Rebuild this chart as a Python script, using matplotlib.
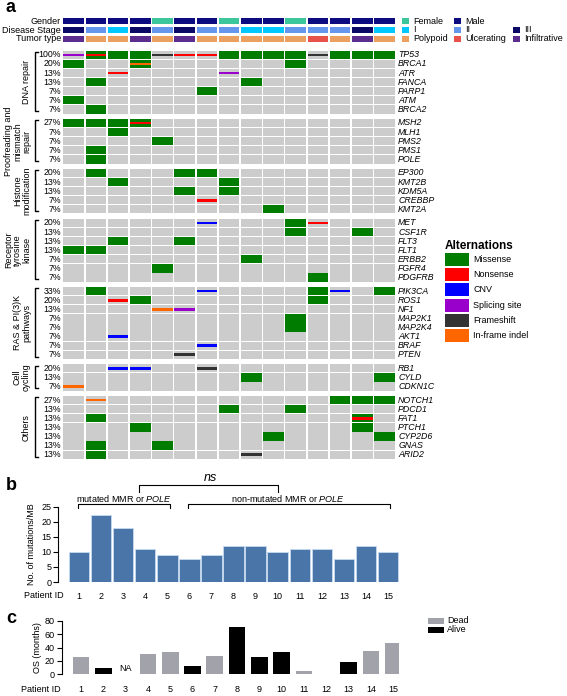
import matplotlib
matplotlib.use("Agg")
import matplotlib.pyplot as plt
from matplotlib.patches import Rectangle

plt.rcParams['font.family'] = ['Liberation Sans', 'DejaVu Sans']
plt.rcParams['mathtext.fontset'] = 'custom'
plt.rcParams['mathtext.rm'] = 'Liberation Sans'
plt.rcParams['mathtext.it'] = 'Liberation Sans:italic'

# ---------------- data ----------------
patients = list(range(1, 16))

gender = ["Male", "Male", "Male", "Male", "Female", "Male", "Male", "Female",
          "Male", "Male", "Female", "Male", "Male", "Male", "Male"]
stage = ["III", "II", "I", "III", "II", "III", "II", "II", "I", "I", "II", "II", "II", "III", "I"]
tumor = ["Infiltrative", "Polypoid", "Polypoid", "Infiltrative", "Polypoid", "Infiltrative",
         "Polypoid", "Polypoid", "Polypoid", "Polypoid", "Polypoid", "Ulcerating",
         "Polypoid", "Infiltrative", "Polypoid"]

groups = ["DNA repair", "Proofreading and\nmismatch\nrepair", "Histone\nmodification",
          "Receptor\ntyrosine\nkinase", "RAS & PI(3)K\npathways", "Cell\ncycling", "Others"]
genes = [
    ["TP53", "BRCA1", "ATR", "FANCA", "PARP1", "ATM", "BRCA2"],
    ["MSH2", "MLH1", "PMS2", "PMS1", "POLE"],
    ["EP300", "KMT2B", "KDM5A", "CREBBP", "KMT2A"],
    ["MET", "CSF1R", "FLT3", "FLT1", "ERBB2", "FGFR4", "PDGFRB"],
    ["PIK3CA", "ROS1", "NF1", "MAP2K1", "MAP2K4", "AKT1", "BRAF", "PTEN"],
    ["RB1", "CYLD", "CDKN1C"],
    ["NOTCH1", "PDCD1", "FAT1", "PTCH1", "CYP2D6", "GNAS", "ARID2"],
]

# one token per patient: . none, M missense, N nonsense, C CNV,
# S splicing site, F frameshift, I in-frame indel
alterations = {
    "TP53":   "S MN M M F N N M M M M F M M M",
    "BRCA1":  "M . . MI . . . . . . M . . . .",
    "ATR":    ". . N . . . . S . . . . . . .",
    "FANCA":  ". M . . . . . . M . . . . . .",
    "PARP1":  ". . . . . . M . . . . . . . .",
    "ATM":    "M . . . . . . . . . . . . . .",
    "BRCA2":  ". M . . . . . . . . . . . . .",
    "MSH2":   "M M M MN . . . . . . . . . . .",
    "MLH1":   ". . M . . . . . . . . . . . .",
    "PMS2":   ". . . . M . . . . . . . . . .",
    "PMS1":   ". M . . . . . . . . . . . . .",
    "POLE":   ". M . . . . . . . . . . . . .",
    "EP300":  ". M . . . M M . . . . . . . .",
    "KMT2B":  ". . M . . . . M . . . . . . .",
    "KDM5A":  ". . . . . M . M . . . . . . .",
    "CREBBP": ". . . . . . N . . . . . . . .",
    "KMT2A":  ". . . . . . . . . M . . . . .",
    "MET":    ". . . . . . C . . . M N . . .",
    "CSF1R":  ". . . . . . . . . . M . . M .",
    "FLT3":   ". . M . . M . . . . . . . . .",
    "FLT1":   "M M . . . . . . . . . . . . .",
    "ERBB2":  ". . . . . . . . M . . . . . .",
    "FGFR4":  ". . . . M . . . . . . . . . .",
    "PDGFRB": ". . . . . . . . . . . M . . .",
    "PIK3CA": ". M . . . . C . . . . M C . M",
    "ROS1":   ". . N M . . . . . . . M . . .",
    "NF1":    ". . . . I S . . . . . . . . .",
    "MAP2K1": ". . . . . . . . . . M . . . .",
    "MAP2K4": ". . . . . . . . . . M . . . .",
    "AKT1":   ". . C . . . . . . . . . . . .",
    "BRAF":   ". . . . . . C . . . . . . . .",
    "PTEN":   ". . . . . F . . . . . . . . .",
    "RB1":    ". . C C . . F . . . . . . . .",
    "CYLD":   ". . . . . . . . M . . . . . M",
    "CDKN1C": "I . . . . . . . . . . . . . .",
    "NOTCH1": ". I . . . . . . . . . . M M M",
    "PDCD1":  ". . . . . . . M . . M . . . .",
    "FAT1":   ". M . . . . . . . . . . . MN .",
    "PTCH1":  ". . . M . . . . . . . . . M .",
    "CYP2D6": ". . . . . . . . . M . . . . M",
    "GNAS":   ". M . . M . . . . . . . . . .",
    "ARID2":  ". M . . . . . . F . . . . . .",
}

mutations_per_mb = [10, 22.2, 17.8, 11.1, 8.8, 7.7, 8.8, 12.1, 12.1, 9.9, 11.1, 11.1, 7.7, 12, 9.8]

os_months = [25.5, 9.5, None, 30.5, 32.5, 11.5, 26.5, 71.5, 25.5, 32.5, 5, 0.5, 17.5, 35, 47]
os_status = ["Dead", "Alive", None, "Dead", "Dead", "Alive", "Dead", "Alive", "Alive",
             "Alive", "Dead", "Dead", "Alive", "Dead", "Dead"]

# ---------------- styles ----------------
header_colors = {
    "Female": "#3cc69b", "Male": "#0c0c80",
    "I": "#00c8ff", "II": "#6496ee", "III": "#0a0a66",
    "Polypoid": "#eba060", "Ulcerating": "#e8524a", "Infiltrative": "#5b2d8e",
}
alt_colors = {"M": "#007d00", "N": "#ff0000", "C": "#0000ff",
              "S": "#9900cc", "F": "#333333", "I": "#ff6600"}
alt_names = [("M", "Missense"), ("N", "Nonsense"), ("C", "CNV"),
             ("S", "Splicing site"), ("F", "Frameshift"), ("I", "In-frame indel")]
cell_gray = "#cccccc"

W, H = 567, 696


def box(l, t, r, b):
    return [l / W, 1 - b / H, (r - l) / W, (b - t) / H]


fig = plt.figure(figsize=(W / 100, H / 100), dpi=100)

# overlay for annotations in pixel coordinates
ov = fig.add_axes([0, 0, 1, 1])
ov.set_xlim(0, W)
ov.set_ylim(H, 0)
ov.axis("off")

# ---------------- panel a: oncoprint ----------------
ax_left, col_w = 63.3, 22.2
ax = fig.add_axes(box(ax_left, 17.94, ax_left + 15 * col_w, 460.2))
ax.set_xlim(0, 15)
ax.set_ylim(45, -3.6)
ax.axis("off")

cw, ch = 0.93, 0.91
gap = 0.49
fs = 6.3

header_rows = [("Gender", gender, -3.56), ("Disease Stage", stage, -2.6), ("Tumor type", tumor, -1.65)]
for label, vals, y in header_rows:
    for c, v in enumerate(vals):
        ax.add_patch(Rectangle((c, y), cw, 0.66, color=header_colors[v], lw=0))
    ax.text(-0.1, y + 0.33, label, ha="right", va="center", fontsize=6.5)

row = 0
for gi, (grp, glist) in enumerate(zip(groups, genes)):
    g_top = row + gi * gap
    for gene in glist:
        y = row + gi * gap
        tokens = alterations[gene].split()
        for c, tok in enumerate(tokens):
            ax.add_patch(Rectangle((c, y), cw, ch, color=cell_gray, lw=0))
            if "M" in tok:
                ax.add_patch(Rectangle((c, y), cw, ch, color=alt_colors["M"], lw=0))
            for t in tok:
                if t not in ".M":
                    bh = 0.32 * ch
                    ax.add_patch(Rectangle((c, y + (ch - bh) / 2), cw, bh,
                                           color=alt_colors[t], lw=0))
        n = sum(tok != "." for tok in tokens)
        ax.text(-0.1, y + ch / 2, f"{round(100 * n / len(tokens))}%", ha="right",
                va="center", fontsize=fs)
        ax.text(15.08, y + ch / 2, gene, ha="left", va="center", fontsize=fs,
                style="italic")
        row += 1
    g_bot = row - 1 + gi * gap + ch
    bx, tx = -1.297, -1.162
    ax.plot([tx, bx, bx, tx], [g_top + 0.15, g_top + 0.15, g_bot - 0.25, g_bot - 0.25],
            color="black", lw=1.0, clip_on=False)
    # rotated group label, one text per line (last line nearest the bracket)
    lines = grp.split("\n")
    for k, line in enumerate(lines):
        px = 26.5 - 9 * (len(lines) - 1 - k)
        ax.text((px - ax_left) / col_w, (g_top + g_bot) / 2, line, rotation=90,
                ha="center", va="center", fontsize=6.5)

# header legend
hleg = [("Female", 402, 21.3), ("Male", 454, 21.3),
        ("I", 402, 29.9), ("II", 454, 29.9), ("III", 513, 29.9),
        ("Polypoid", 402, 38.6), ("Ulcerating", 454, 38.6), ("Infiltrative", 513, 38.6)]
for name, x, y in hleg:
    ov.add_patch(Rectangle((x, y - 3), 6.5, 6, color=header_colors[name], lw=0))
    ov.text(x + 11, y, name, ha="left", va="center", fontsize=6.5)

# alteration legend
ov.text(445, 246, "Alternations", ha="left", va="center", fontsize=8.5, fontweight="bold")
for i, (code, name) in enumerate(alt_names):
    yc = 259.5 + i * 15.2
    ov.add_patch(Rectangle((445, yc - 6.5), 24, 13, color=alt_colors[code], lw=0))
    ov.text(473, yc, name, ha="left", va="center", fontsize=6.5)

# ---------------- panel b: mutation burden ----------------
axb = fig.add_axes(box(58.3, 506.7, 399.25, 582))
axb.bar(patients, mutations_per_mb, width=0.93, color="#4a75a9", edgecolor="#c6daf0", lw=0.6)
axb.set_xlim(0.07, 15.5)
axb.set_ylim(0, 25)
axb.set_yticks([0, 5, 10, 15, 20, 25])
axb.set_xticks(patients)
axb.tick_params(axis="y", labelsize=6.5, length=3.5, width=0.8, pad=1.5)
axb.tick_params(axis="x", labelsize=6.5, length=0, pad=7)
for s in ["top", "right", "bottom"]:
    axb.spines[s].set_visible(False)
axb.spines["left"].set_linewidth(0.8)
axb.patch.set_alpha(0)
axb.set_ylabel("No. of mutations/MB", fontsize=6.5, labelpad=4)
ov.text(64, 595.5, "Patient ID", ha="right", va="center", fontsize=6.5)

# brackets
ov.plot([78, 78, 170, 170], [508, 504, 504, 508], color="black", lw=0.8)
ov.plot([188, 188, 390, 390], [508, 504, 504, 508], color="black", lw=0.8)
ov.plot([139, 139, 278, 278], [492, 485, 485, 492], color="black", lw=0.8)
ov.text(124, 498, r"mutated MMR or $\mathit{POLE}$", ha="center", va="center", fontsize=6.5)
ov.text(288, 498, r"non-mutated MMR or $\mathit{POLE}$", ha="center", va="center", fontsize=6.5)
ov.text(210, 478, "ns", ha="center", va="center", fontsize=9, style="italic")

# ---------------- panel c: overall survival ----------------
axc = fig.add_axes(box(62, 621, 399, 674))
status_colors = {"Dead": "#a2a2aa", "Alive": "#000000"}
for p, v, s in zip(patients, os_months, os_status):
    if v is None:
        axc.text(p, 1.5, "NA", ha="center", va="bottom", fontsize=6.5)
    else:
        axc.bar(p, v, width=0.75, color=status_colors[s])
axc.set_xlim(0.148, 15.26)
axc.set_ylim(0, 80)
axc.set_yticks([0, 20, 40, 60, 80])
axc.set_xticks(patients)
axc.tick_params(axis="y", labelsize=6.5, length=3.5, width=0.8, pad=1.5)
axc.tick_params(axis="x", labelsize=6.5, length=0, pad=8)
for s in ["top", "right", "bottom"]:
    axc.spines[s].set_visible(False)
axc.spines["left"].set_linewidth(0.8)
axc.patch.set_alpha(0)
axc.set_ylabel("OS (months)", fontsize=6.5, labelpad=2)
ov.text(61, 690, "Patient ID", ha="right", va="center", fontsize=6.5)

for i, s in enumerate(["Dead", "Alive"]):
    yc = 620.5 + i * 9
    ov.add_patch(Rectangle((428, yc - 3), 16, 6, color=status_colors[s], lw=0))
    ov.text(447, yc, s, ha="left", va="center", fontsize=6.5)

# panel letters
ov.text(6, 12.5, "a", fontsize=13, fontweight="bold", ha="left", va="baseline")
ov.text(6, 490, "b", fontsize=13, fontweight="bold", ha="left", va="baseline")
ov.text(6, 623, "c", fontsize=13, fontweight="bold", ha="left", va="baseline")

fig.savefig("out.png", dpi=100)
